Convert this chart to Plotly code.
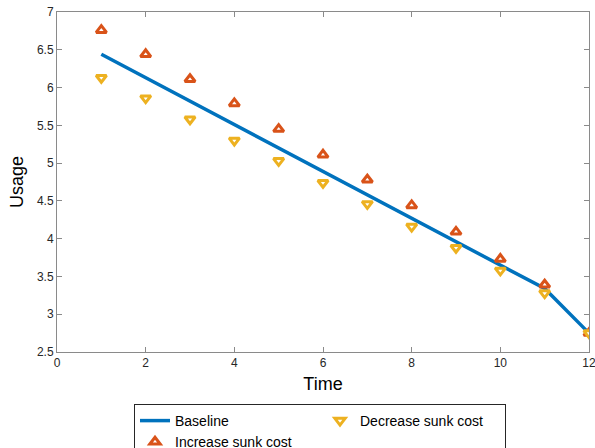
import plotly.graph_objects as go

# Usage over time under three sunk-cost conditions
time = [1, 2, 3, 4, 5, 6, 7, 8, 9, 10, 11, 12]
baseline = [6.44, 6.13, 5.82, 5.51, 5.20, 4.89, 4.58, 4.27, 3.96, 3.65, 3.34, 2.75]
increase_sunk = [6.76, 6.44, 6.11, 5.79, 5.45, 5.11, 4.78, 4.44, 4.09, 3.73, 3.39, 2.75]
decrease_sunk = [6.13, 5.86, 5.58, 5.30, 5.03, 4.74, 4.46, 4.16, 3.88, 3.58, 3.28, 2.75]

x_ticks = [0, 2, 4, 6, 8, 10, 12]
y_ticks = [2.5, 3, 3.5, 4, 4.5, 5, 5.5, 6, 6.5, 7]

BLUE = "#0072BD"
ORANGE = "#D95319"
YELLOW = "#EDB120"
AXIS = "#8a8a8a"
FONT = "Liberation Sans, Arial, Helvetica, sans-serif"

fig = go.Figure()
fig.add_trace(go.Scatter(
    x=time, y=baseline, mode="lines", name="Baseline",
    line=dict(color=BLUE, width=3.5), legendrank=1,
))
fig.add_trace(go.Scatter(
    x=time, y=increase_sunk, mode="markers", name="Increase sunk cost",
    marker=dict(symbol="triangle-up", size=9, color="white",
                line=dict(color=ORANGE, width=3)),
    legendrank=3,
))
fig.add_trace(go.Scatter(
    x=time, y=decrease_sunk, mode="markers", name="Decrease sunk cost",
    marker=dict(symbol="triangle-down", size=9, color="white",
                line=dict(color=YELLOW, width=3)),
    legendrank=2,
))

axis_common = dict(
    showgrid=False, zeroline=False, showline=True, mirror="ticks",
    linecolor=AXIS, linewidth=1, ticks="inside", ticklen=5,
    tickcolor=AXIS, tickfont=dict(size=12, color="#262626", family=FONT),
    ticklabeloverflow="allow", automargin=False,
)

fig.update_xaxes(range=[0, 12], tickvals=x_ticks,
                 title=dict(text="Time", font=dict(size=18, color="#000", family=FONT), standoff=7),
                 **axis_common)
fig.update_yaxes(range=[2.5, 7], tickvals=y_ticks,
                 ticktext=[f"{v:g}" for v in y_ticks],
                 title=dict(text="Usage", font=dict(size=18, color="#000", family=FONT), standoff=8),
                 **axis_common)

fig.update_layout(
    width=595, height=448,
    margin=dict(l=57, r=6, t=12, b=96, autoexpand=False),
    plot_bgcolor="white", paper_bgcolor="white",
    font=dict(family=FONT, color="#000"),
    legend=dict(
        orientation="h", xref="container", yref="container",
        x=134 / 595, y=1 - 404 / 448, xanchor="left", yanchor="top",
        bordercolor="#262626", borderwidth=1, bgcolor="white",
        font=dict(size=14, family=FONT, color="#000"),
        entrywidth=140, entrywidthmode="pixels",
        tracegroupgap=0,
    ),
)

fig.write_html("out.html")
